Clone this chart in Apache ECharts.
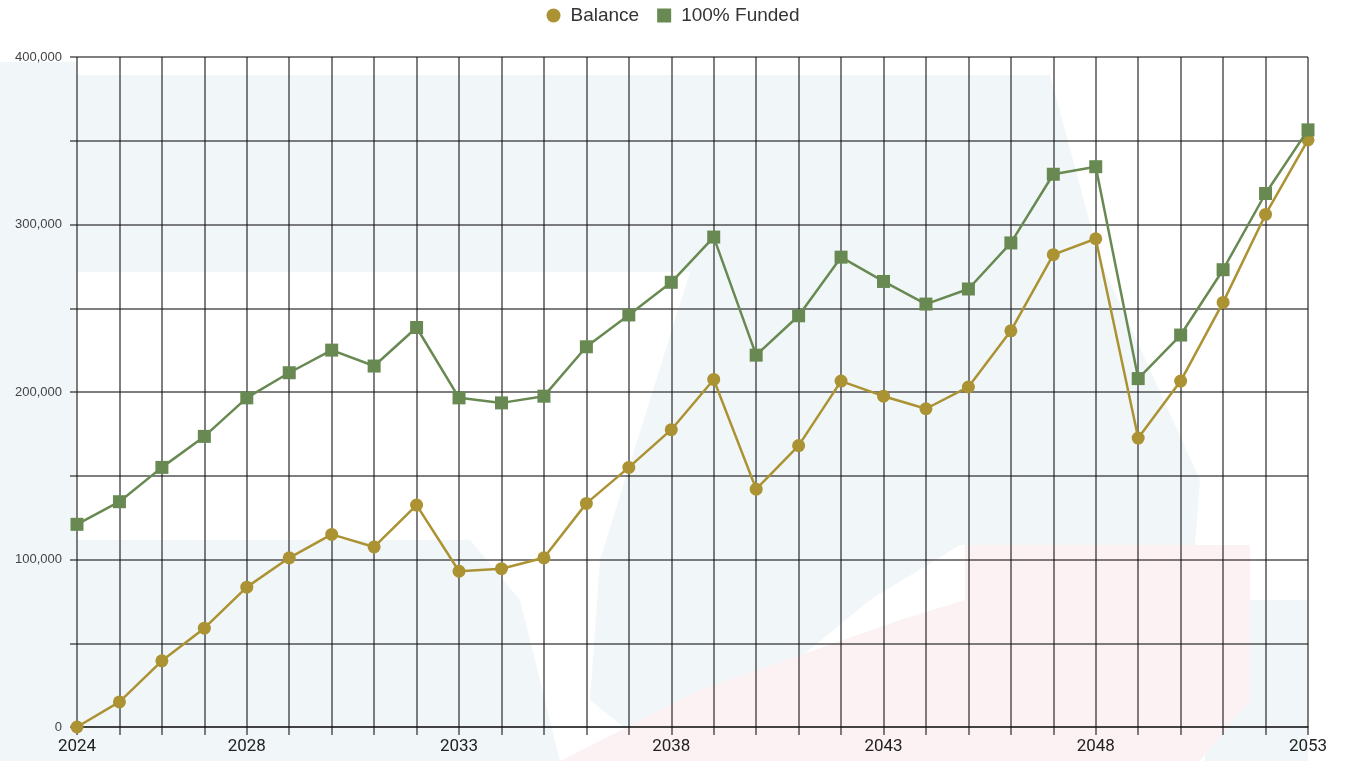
<!DOCTYPE html>
<html>
<head>
<meta charset="utf-8">
<script src="https://cdn.jsdelivr.net/npm/echarts@6/dist/echarts.min.js"></script>
<style>
html,body{margin:0;padding:0;background:#fff;}
#chart{width:1346px;height:761px;}
</style>
</head>
<body>
<div id="chart"></div>
<script>
const years = [2024,2025,2026,2027,2028,2029,2030,2031,2032,2033,2034,2035,2036,2037,2038,2039,2040,2041,2042,2043,2044,2045,2046,2047,2048,2049,2050,2051,2052,2053];
const balance = [0,15000,39500,59000,83500,101000,115000,107500,132500,93000,94500,101000,133500,155000,177500,207500,142000,168000,206500,197500,190000,203000,236500,282000,291500,172500,206500,253500,306000,350500];
const funded = [121000,134500,155000,173500,196500,211500,225000,215500,238500,196500,193500,197500,227000,246000,265500,292500,222000,245500,280500,266000,252500,261500,289000,330000,334500,208000,234000,273000,318500,356500];
const xLabelYears = [2024,2028,2033,2038,2043,2048,2053];
const yLabelValues = [0,100000,200000,300000,400000];

const chart = echarts.init(document.getElementById('chart'), null, {renderer:'canvas'});
const blue = '#f1f6f9', pink = '#fcf2f3';
const gridLine = 'rgba(20,20,20,0.72)';
chart.setOption({
  animation:false,
  backgroundColor:'#ffffff',
  graphic:{elements:[
    {type:'rect', z:-100, shape:{x:0,y:62,width:77,height:699}, style:{fill:blue}},
    {type:'polygon', z:-100, shape:{points:[[77,75],[1050,75],[1100,260],[1200,480],[1195,545],[960,545],[870,600],[760,690],[640,740],[590,700],[600,560],[650,400],[690,272],[77,272]]}, style:{fill:blue}},
    {type:'polygon', z:-100, shape:{points:[[77,540],[470,540],[520,600],[560,761],[77,761]]}, style:{fill:blue}},
    {type:'polygon', z:-99, shape:{points:[[965,545],[1250,545],[1250,700],[1200,761],[560,761],[700,690],[900,620],[965,600]]}, style:{fill:pink}},
    {type:'rect', z:-100, shape:{x:1205,y:600,width:103,height:161}, style:{fill:blue}}
  ]},
  legend:{
    top:1, left:'center',
    itemWidth:24, itemHeight:14, itemGap:18,
    textStyle:{fontSize:19, color:'#333', fontFamily:'Arial, Liberation Sans, sans-serif'},
    data:[{name:'Balance', icon:'circle'},{name:'100% Funded', icon:'path://M0,0h10v10h-10z'}]
  },
  grid:{left:77, right:38, top:57, bottom:34, containLabel:false},
  xAxis:{
    type:'category', data:years, boundaryGap:false,
    axisLine:{show:true, lineStyle:{color:gridLine, width:1.5}},
    axisTick:{show:true, interval:0, length:8, lineStyle:{color:gridLine, width:1.5}},
    axisLabel:{
      interval:function(i,v){return xLabelYears.indexOf(Number(v))>=0;},
      fontSize:17, color:'#222', margin:11, fontFamily:'Roboto, Arial, sans-serif'
    },
    splitLine:{show:true, interval:0, lineStyle:{color:gridLine, width:1.5}}
  },
  yAxis:{
    type:'value', min:0, max:400000, interval:50000,
    axisLine:{show:false},
    axisTick:{show:true, length:7, lineStyle:{color:gridLine, width:1.5}},
    axisLabel:{
      formatter:function(v){return yLabelValues.indexOf(v)>=0 ? v.toLocaleString('en-US') : '';},
      fontSize:13, color:'#444', margin:15, verticalAlign:'middle', fontFamily:'Arial, Liberation Sans, sans-serif'
    },
    splitLine:{show:true, lineStyle:{color:gridLine, width:1.5}}
  },
  series:[
    {name:'Balance', type:'line', data:balance, symbol:'circle', symbolSize:13,
     itemStyle:{color:'#ab9232'}, lineStyle:{color:'#ab9232', width:2.5}, z:3},
    {name:'100% Funded', type:'line', data:funded, symbol:'rect', symbolSize:13,
     itemStyle:{color:'#688a52'}, lineStyle:{color:'#688a52', width:2.5}, z:4}
  ]
});
</script>
</body>
</html>
